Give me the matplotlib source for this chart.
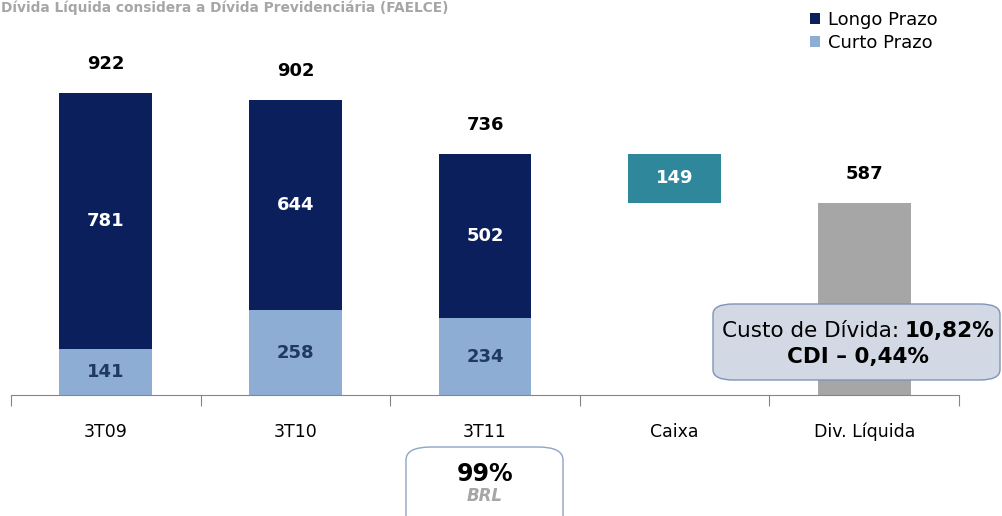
#!/usr/bin/env python3
import numpy as np
import matplotlib.pyplot as plt
from matplotlib.patches import FancyBboxPatch

# Dados (R$ milhões)
categorias = ["3T09", "3T10", "3T11", "Caixa", "Div. Líquida"]
periodos = ["3T09", "3T10", "3T11"]
curto_prazo = [141, 258, 234]
longo_prazo = [781, 644, 502]
totais = [922, 902, 736]
caixa = 149
div_liquida = 587

escuro = "#0b1f5c"
claro = "#8eadd5"
verde = "#2e879b"
cinza = "#a6a6a6"

W, H = 1003, 516
fig = plt.figure(figsize=(W / 100, H / 100), dpi=100)

def fx(x):
    return x / W

def fy(y):
    return 1 - y / H

# eixo: base em y=395 px, de x=11 a x=959 px
ax = fig.add_axes([fx(11), fy(395), fx(959) - fx(11), fy(0) - fy(395)])
ax.set_xlim(-0.5, 4.5)
ax.set_ylim(0, 1206)

x = np.arange(len(periodos))
larg = 0.49
ax.bar(x, curto_prazo, larg, color=claro, label="Curto Prazo", zorder=2)
ax.bar(x, longo_prazo, larg, bottom=curto_prazo, color=escuro, label="Longo Prazo", zorder=2)
ax.bar(3, caixa, larg, bottom=div_liquida, color=verde, zorder=2)
ax.bar(4, div_liquida, larg, color=cinza, zorder=2)

for i in range(len(periodos)):
    ax.text(x[i], curto_prazo[i] / 2, str(curto_prazo[i]), ha="center", va="center",
            fontsize=13, fontweight="bold", color="#1f3864")
    ax.text(x[i], curto_prazo[i] + longo_prazo[i] / 2, str(longo_prazo[i]), ha="center",
            va="center", fontsize=13, fontweight="bold", color="white")
    ax.text(x[i], totais[i] + 88, str(totais[i]), ha="center", va="center",
            fontsize=13, fontweight="bold", color="black")

ax.text(3, div_liquida + caixa / 2, str(caixa), ha="center", va="center",
        fontsize=13, fontweight="bold", color="white")
ax.text(4, div_liquida + 88, str(div_liquida), ha="center", va="center",
        fontsize=13, fontweight="bold", color="black")

# eixo x
for s in ["top", "right", "left"]:
    ax.spines[s].set_visible(False)
ax.spines["bottom"].set_color("#868686")
ax.set_yticks([])
ax.set_xticks(np.arange(-0.5, 5, 1))
ax.set_xticklabels([])
ax.tick_params(axis="x", which="major", length=8, color="#868686", direction="out")
ax.set_xticks(np.arange(len(categorias)), minor=True)
ax.set_xticklabels(categorias, minor=True, fontsize=12.5)
ax.tick_params(axis="x", which="minor", length=0, pad=20)

# título
fig.text(fx(1), fy(8), "Dívida Líquida considera a Dívida Previdenciária (FAELCE)",
         fontsize=9.9, fontweight="bold", color=cinza, ha="left", va="center")

# legenda
h, l = ax.get_legend_handles_labels()
fig.legend(h[::-1], l[::-1], loc="upper left", bbox_to_anchor=(fx(797), fy(-2)),
           frameon=False, fontsize=13, handlelength=0.55, handleheight=0.55,
           handletextpad=0.45, labelspacing=0.3, borderpad=0.2)

# caixa custo da dívida
fig.patches.append(FancyBboxPatch((fx(713), fy(380)), fx(1000) - fx(713), fy(304) - fy(380),
                                  boxstyle="round,pad=0,rounding_size=0.02",
                                  transform=fig.transFigure, facecolor="#d2d9e4",
                                  edgecolor="#7f93b8", linewidth=1.0, zorder=5))
fig.text(fx(899), fy(331), "Custo de Dívida:", fontsize=15.5, ha="right", va="center", zorder=6)
fig.text(fx(905), fy(331), "10,82%", fontsize=15.5, fontweight="bold", ha="left", va="center", zorder=6)
fig.text(fx(858), fy(357), "CDI – 0,44%", fontsize=15.5, fontweight="bold", ha="center", va="center", zorder=6)

# caixa 99% BRL
fig.patches.append(FancyBboxPatch((fx(406), fy(530)), fx(563) - fx(406), fy(447) - fy(530),
                                  boxstyle="round,pad=0,rounding_size=0.025",
                                  transform=fig.transFigure, facecolor="white",
                                  edgecolor="#8fa3c6", linewidth=1.0, zorder=5))
fig.text(fx(485), fy(474), "99%", fontsize=17, fontweight="bold", ha="center", va="center", zorder=6)
fig.text(fx(485), fy(496), "BRL", fontsize=12, fontweight="bold", fontstyle="italic",
         color=cinza, ha="center", va="center", zorder=6)

fig.savefig("out.png", dpi=100)
